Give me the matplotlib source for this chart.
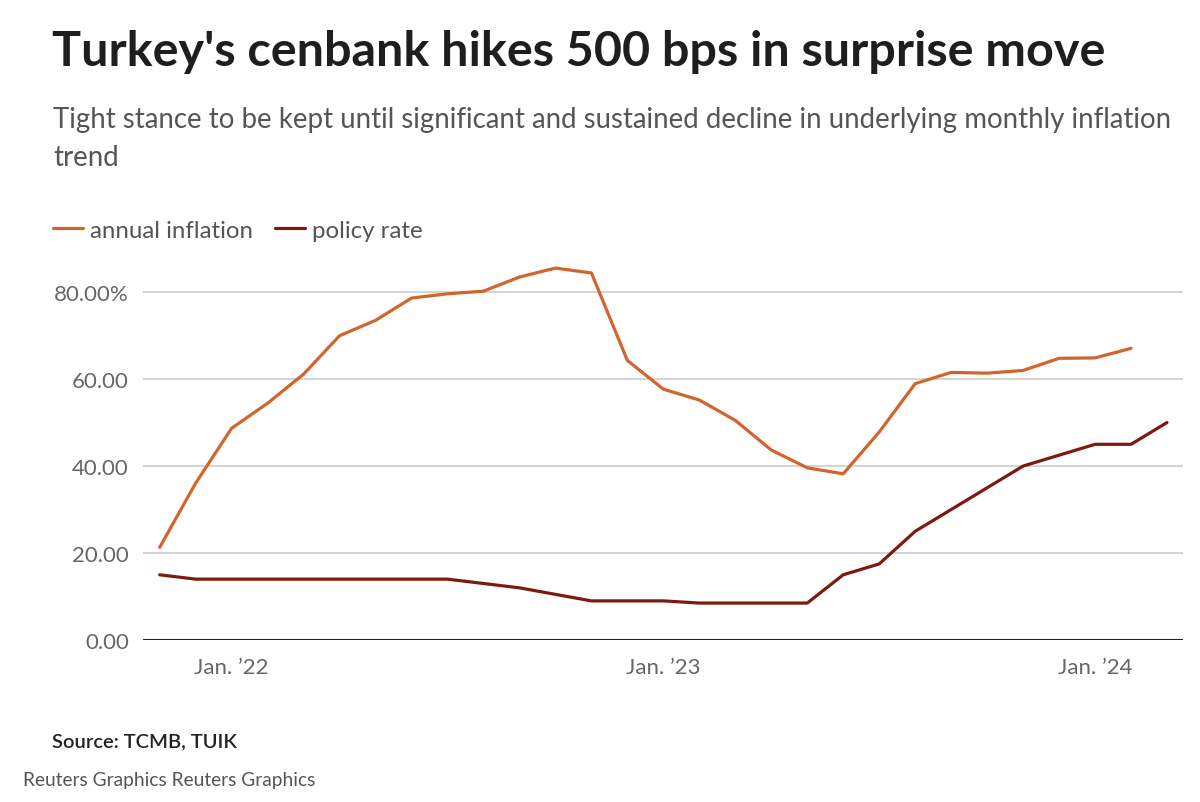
import matplotlib
matplotlib.use('Agg')
import matplotlib.pyplot as plt

# monthly data, Nov 2021 .. Mar 2024
months = ['Nov 21', 'Dec 21', 'Jan 22', 'Feb 22', 'Mar 22', 'Apr 22', 'May 22', 'Jun 22',
          'Jul 22', 'Aug 22', 'Sep 22', 'Oct 22', 'Nov 22', 'Dec 22', 'Jan 23', 'Feb 23',
          'Mar 23', 'Apr 23', 'May 23', 'Jun 23', 'Jul 23', 'Aug 23', 'Sep 23', 'Oct 23',
          'Nov 23', 'Dec 23', 'Jan 24', 'Feb 24', 'Mar 24']
annual_inflation = [21.31, 36.08, 48.69, 54.44, 61.14, 69.97, 73.50, 78.62, 79.60, 80.21,
                    83.45, 85.51, 84.39, 64.27, 57.68, 55.18, 50.51, 43.68, 39.59, 38.21,
                    47.83, 58.94, 61.53, 61.36, 61.98, 64.77, 64.86, 67.07]
policy_rate = [15, 14, 14, 14, 14, 14, 14, 14, 14, 13, 12, 10.5, 9, 9, 9, 8.5, 8.5, 8.5, 8.5,
               15, 17.5, 25, 30, 35, 40, 42.5, 45, 45, 50]
tick_pos = [2, 14, 26]
tick_labels = ['Jan. \u201922', 'Jan. \u201923', 'Jan. \u201924']
y_ticks = [0, 20, 40, 60, 80]
y_labels = ['0.00', '20.00', '40.00', '60.00', '80.00%']

ORANGE = '#d2652c'
DARK_RED = '#7d1a0e'
FONT = 'Lato'

plt.rcParams['font.family'] = [FONT, 'DejaVu Sans']

fig = plt.figure(figsize=(12, 8.03), dpi=100)
ax = fig.add_axes([0.119, 0.2017, 0.867, 0.4875])

x_inf = list(range(len(annual_inflation)))
x_pol = list(range(len(policy_rate)))
ax.plot(x_inf, annual_inflation, color=ORANGE, lw=2.3, solid_joinstyle='round',
        solid_capstyle='round', zorder=3, label='annual inflation')
ax.plot(x_pol, policy_rate, color=DARK_RED, lw=2.3, solid_joinstyle='round',
        solid_capstyle='round', zorder=3, label='policy rate')

ax.set_xlim(-0.47, 28.45)
ax.set_ylim(0, 90)
ax.set_yticks(y_ticks)
ax.set_yticklabels(y_labels)
ax.set_xticks(tick_pos)
ax.set_xticklabels(tick_labels)
ax.tick_params(axis='both', length=0, labelsize=16, labelcolor='#666666')
ax.tick_params(axis='y', pad=10)
ax.tick_params(axis='x', pad=12)
for v in y_ticks[1:]:
    ax.axhline(v, color='#cccccc', lw=1.2, zorder=1)
ax.axhline(0, color='#222222', lw=1.5, zorder=2)
for s in ax.spines.values():
    s.set_visible(False)

# titles
fig.text(52 / 1200, 1 - 66 / 803, "Turkey's cenbank hikes 500 bps in surprise move",
         fontsize=34.9, fontweight='bold', color='#1e1e1e', va='baseline', ha='left')
fig.text(53 / 1200, 1 - 128 / 803,
         'Tight stance to be kept until significant and sustained decline in underlying monthly inflation',
         fontsize=19.9, color='#555555', va='baseline', ha='left')
fig.text(53 / 1200, 1 - 166 / 803, 'trend', fontsize=19.9, color='#555555',
         va='baseline', ha='left')

leg = fig.legend(loc='center left', bbox_to_anchor=(53 / 1200, 1 - 231 / 803), ncol=2,
                 frameon=False, fontsize=17.3, handlelength=1.25, handletextpad=0.29,
                 columnspacing=0.92, borderpad=0, borderaxespad=0, labelcolor='#555555')

fig.text(52 / 1200, 1 - 747 / 803, 'Source: TCMB, TUIK', fontsize=14.5,
         fontweight='semibold', color='#222222', va='baseline', ha='left')
fig.text(23 / 1200, 1 - 786 / 803, 'Reuters Graphics Reuters Graphics', fontsize=13.8,
         color='#555555', va='baseline', ha='left')

fig.savefig('out.png', dpi=100, facecolor='white')
